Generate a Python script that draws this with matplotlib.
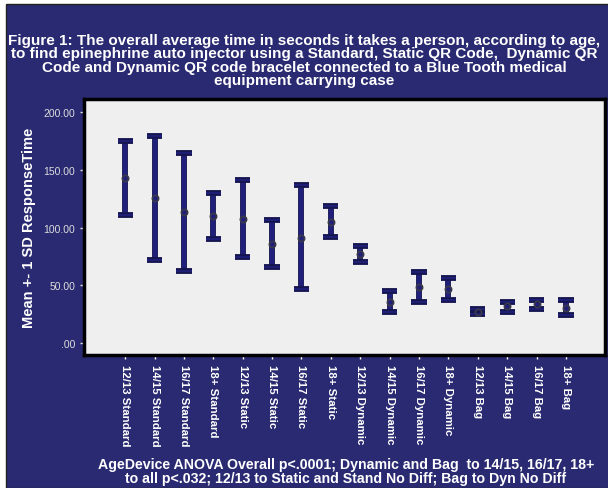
import numpy as np
import matplotlib
matplotlib.use("Agg")
import matplotlib.pyplot as plt
import matplotlib.patheffects as pe
from matplotlib.patches import Rectangle

plt.rcParams['font.family'] = ['Liberation Sans', 'DejaVu Sans']

# values
labels = ['12/13 Standard', '14/15 Standard', '16/17 Standard', '18+ Standard',
          '12/13 Static', '14/15 Static', '16/17 Static', '18+ Static',
          '12/13 Dynamic', '14/15 Dynamic', '16/17 Dynamic', '18+ Dynamic',
          '12/13 Bag', '14/15 Bag', '16/17 Bag', '18+ Bag']
means = [142.7, 125.2, 113.2, 110.0, 107.7, 86.0, 91.1, 104.9,
         77.4, 36.1, 48.7, 47.0, 27.5, 32.1, 33.8, 30.9]
upper = [175.1, 179.1, 164.7, 130.1, 141.2, 106.6, 136.4, 118.3,
         83.9, 45.3, 61.9, 56.7, 29.8, 35.5, 37.8, 37.2]
lower = [110.6, 71.9, 62.2, 90.5, 74.8, 65.6, 46.7, 92.0,
         70.5, 26.9, 35.8, 37.8, 25.2, 27.5, 29.8, 24.6]
yticks = [0, 50, 100, 150, 200]
ytick_labels = ['.00', '50.00', '100.00', '150.00', '200.00']

title = ("Figure 1: The overall average time in seconds it takes a person, according to age,\n"
         "to find epinephrine auto injector using a Standard, Static QR Code,  Dynamic QR\n"
         "Code and Dynamic QR code bracelet connected to a Blue Tooth medical\n"
         "equipment carrying case")
xlabel = ("AgeDevice ANOVA Overall p<.0001; Dynamic and Bag  to 14/15, 16/17, 18+\n"
          "to all p<.032; 12/13 to Static and Stand No Diff; Bag to Dyn No Diff")

navy = '#2a2a72'
bar_col = '#20207c'

W, H = 608, 489
fig = plt.figure(figsize=(W / 100, H / 100), dpi=100, facecolor='white')
# navy panel with thin dark border on left/top
fig.patches.append(Rectangle((6 / W, 0), 1, 1 - 5 / H, transform=fig.transFigure,
                             facecolor=navy, edgecolor='#222222', linewidth=1, zorder=-5))

ax = fig.add_axes([84 / W, 1 - 356 / H, (605 - 84) / W, (356 - 100) / H])
ax.set_facecolor('#efefef')

x = np.arange(len(labels))
m = np.array(means)
yerr = [m - np.array(lower), np.array(upper) - m]
eb = ax.errorbar(x, m, yerr=yerr, fmt='o', color=bar_col, ecolor=bar_col,
                 elinewidth=3, capsize=5.5, capthick=3.2,
                 ms=4.5, mfc='none', mec='#3a3a4a', mew=1.2, zorder=3)
for art in list(eb[1]) + list(eb[2]):
    art.set_path_effects([pe.Stroke(linewidth=4.2, foreground='#151550'), pe.Normal()])

ax.set_xlim(-1.4, 16.33)
ax.set_ylim(-10, 211)
ax.set_yticks(yticks)
ax.set_yticklabels(ytick_labels)
ax.set_xticks(x)
ax.set_xticklabels(labels, rotation=270, fontweight='bold', fontsize=8.2, color='white',
                   va='top', ha='center')
ax.tick_params(axis='y', colors='#dddddd', labelsize=7.5, length=3, width=1)
ax.tick_params(axis='x', colors='white', length=3, width=1)
for s in ax.spines.values():
    s.set_linewidth(2.5)
    s.set_color('black')

ax.set_ylabel('Mean +- 1 SD ResponseTime', color='white', fontweight='bold', fontsize=10.5)
ax.yaxis.set_label_coords(-0.093, 0.5)

fig.text(0.5, 1 - 61 / H, title, ha='center', va='center', color='white',
         fontweight='bold', fontsize=11, linespacing=0.92)
fig.text(346 / W, 1 - 472 / H, xlabel, ha='center', va='center', color='white',
         fontweight='bold', fontsize=10.2, linespacing=0.95)

fig.savefig('out.png', dpi=100, facecolor=fig.get_facecolor())
